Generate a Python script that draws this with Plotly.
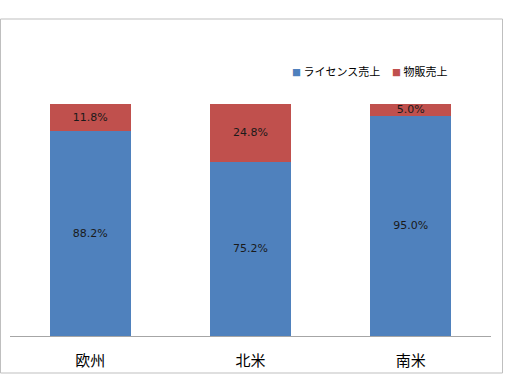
import plotly.graph_objects as go

W, H = 507, 375

categories = ["欧州", "北米", "南米"]
license_sales = [88.2, 75.2, 95.0]
merch_sales = [11.8, 24.8, 5.0]
series_names = ["ライセンス売上", "物販売上"]
series_colors = ["#4F81BD", "#C0504D"]

FONT = "Noto Sans CJK JP"

def px_x(x):
    return x / W

def px_y(y):
    return 1 - y / H

fig = go.Figure()
for vals, name, col in zip([license_sales, merch_sales], series_names, series_colors):
    fig.add_trace(go.Bar(
        x=categories, y=vals, name=name,
        marker=dict(color=col, line=dict(width=0)),
        texttemplate="%{y:.1f}%", textposition="inside", insidetextanchor="middle",
        constraintext="none",
        textfont=dict(color="#1a1a1a", size=11, family="DejaVu Sans"),
        hoverinfo="skip", showlegend=False,
    ))

fig.update_layout(
    width=W, height=H,
    margin=dict(l=0, r=0, t=0, b=0),
    paper_bgcolor="white", plot_bgcolor="white",
    barmode="stack", bargap=0.495,
    font=dict(family=FONT, color="#000000"),
    showlegend=False,
)
fig.update_xaxes(
    domain=[px_x(10), px_x(491)],
    showline=True, linecolor="#A6A6A6", linewidth=1,
    showgrid=False, ticks="", zeroline=False,
    tickfont=dict(size=15, family=FONT, color="#000"),
    ticklabelstandoff=11,
)
fig.update_yaxes(
    domain=[px_y(336), px_y(104)],
    range=[0, 100], visible=False, showgrid=False, zeroline=False,
)

# legend drawn as text with coloured squares
legend_x = [290, 390]
for lx, name, col in zip(legend_x, series_names, series_colors):
    fig.add_annotation(xref="paper", yref="paper", x=px_x(lx), y=px_y(71),
                       xanchor="left", yanchor="middle", showarrow=False,
                       text=f"<span style='color:{col};font-size:9px'>■</span> {name}",
                       font=dict(size=11, family=FONT, color="#000"))

# chart frame
fig.add_shape(type="rect", xref="paper", yref="paper",
              x0=px_x(0.5), x1=px_x(502.5), y0=px_y(373), y1=px_y(19),
              line=dict(color="#BFBFBF", width=1), fillcolor="rgba(0,0,0,0)", layer="below")

# partially clipped caption at the very top
fig.add_annotation(xref="paper", yref="paper", x=px_x(0), y=px_y(4),
                   xanchor="left", yanchor="bottom", showarrow=False,
                   text="図表1　2011年の地域別商品化権収入の内訳（ライセンス売上と物販売上）",
                   font=dict(size=12, family=FONT, color="#888888"))

fig.write_html("out.html")
